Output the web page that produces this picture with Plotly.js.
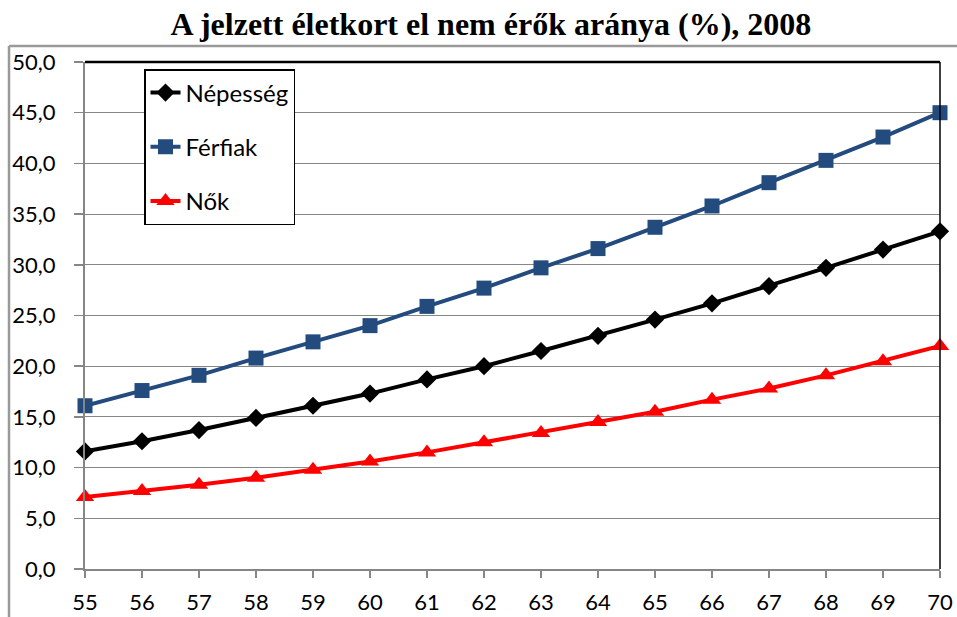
<!DOCTYPE html>
<html>
<head>
<meta charset="utf-8">
<script src="https://cdn.plot.ly/plotly-3.0.1.min.js"></script>
<style>html,body{margin:0;padding:0;background:#fff;}#chart{width:957px;height:617px;}</style>
</head>
<body>
<div id="chart"></div>
<script>
const ages = [55, 56, 57, 58, 59, 60, 61, 62, 63, 64, 65, 66, 67, 68, 69, 70];
const nepesseg = [11.6, 12.6, 13.7, 14.9, 16.1, 17.3, 18.7, 20.0, 21.5, 23.0, 24.6, 26.2, 27.9, 29.7, 31.5, 33.3];
const ferfiak = [16.1, 17.6, 19.1, 20.8, 22.4, 24.0, 25.9, 27.7, 29.7, 31.6, 33.7, 35.8, 38.1, 40.3, 42.6, 45.0];
const nok = [7.1, 7.7, 8.3, 9.0, 9.8, 10.6, 11.5, 12.5, 13.4, 14.5, 15.5, 16.7, 17.8, 19.1, 20.5, 22.0];
const seriesNames = ['Népesség', 'Férfiak', 'Nők'];
const titleText = 'A jelzett életkort el nem érők aránya (%), 2008';

const W = 957, H = 617;
const M = {l: 85, r: 17, t: 62, b: 48};
const pw = W - M.l - M.r, ph = H - M.t - M.b;
const px2x = p => (p - M.l) / pw;
const py2y = p => (H - M.b - p) / ph;

const traces = [
  {x: ages, y: nepesseg, name: seriesNames[0], legendgroup: 'a', mode: 'lines+markers',
   line: {color: '#000000', width: 4}, marker: {symbol: 'diamond', size: 14, color: '#000000'}, cliponaxis: false},
  {x: ages, y: ferfiak, name: seriesNames[1], legendgroup: 'b', mode: 'lines+markers',
   line: {color: '#234B7E', width: 4}, marker: {symbol: 'square', size: 15, color: '#234B7E'}, cliponaxis: false},
  {x: ages, y: nok, name: seriesNames[2], legendgroup: 'c', mode: 'lines+markers',
   line: {color: '#FF0000', width: 4}, marker: {symbol: 'triangle-up', size: 16, color: '#FF0000'}, cliponaxis: false}
];

const layout = {
  width: W, height: H,
  margin: M,
  paper_bgcolor: '#ffffff', plot_bgcolor: '#ffffff',
  separators: ', ',
  showlegend: true,
  title: {text: '<b>' + titleText + '</b>', x: 0.513, xanchor: 'center', y: 0.962, yanchor: 'middle',
          font: {family: 'Liberation Serif', size: 32, color: '#000'}},
  xaxis: {range: [55, 70], tickvals: ages, ticktext: ages.map(String), showgrid: false, zeroline: false,
          showline: true, linecolor: '#868686', linewidth: 2, ticks: 'outside', ticklen: 7, tickcolor: '#868686',
          tickwidth: 1.5, ticklabelstandoff: 6, tickfont: {family: 'Lato', size: 22, color: '#000'}, fixedrange: true},
  yaxis: {range: [0, 50], dtick: 5, tick0: 0, tickformat: '.1f', showgrid: true, gridcolor: '#868686', gridwidth: 1,
          zeroline: false, showline: true, linecolor: '#868686', linewidth: 2, ticks: 'outside', ticklen: 9,
          tickcolor: '#868686', tickwidth: 1.5, ticklabelstandoff: 14, tickfont: {family: 'Lato', size: 22, color: '#000'}, fixedrange: true},
  legend: {x: px2x(144), y: py2y(69), xanchor: 'left', yanchor: 'top', bgcolor: '#ffffff',
           bordercolor: '#000000', borderwidth: 1.5, traceorder: 'grouped', tracegroupgap: 20,
           entrywidth: 145, entrywidthmode: 'pixels',
           font: {family: 'Lato', size: 24, color: '#000'}},
  shapes: [
    {type: 'line', xref: 'paper', yref: 'paper', x0: 0, x1: 1, y0: 1, y1: 1, line: {color: '#000', width: 2.5}},
    {type: 'line', xref: 'paper', yref: 'paper', x0: 1, x1: 1, y0: 0, y1: 1, line: {color: '#000', width: 1.5}},
    {type: 'line', xref: 'paper', yref: 'paper', x0: px2x(9), x1: px2x(957), y0: py2y(46), y1: py2y(46), line: {color: '#999', width: 2.5}},
    {type: 'line', xref: 'paper', yref: 'paper', x0: px2x(9), x1: px2x(9), y0: py2y(46), y1: py2y(617), line: {color: '#999', width: 2.5}}
  ]
};

Plotly.newPlot('chart', traces, layout, {displayModeBar: false, staticPlot: true});
</script>
</body>
</html>
